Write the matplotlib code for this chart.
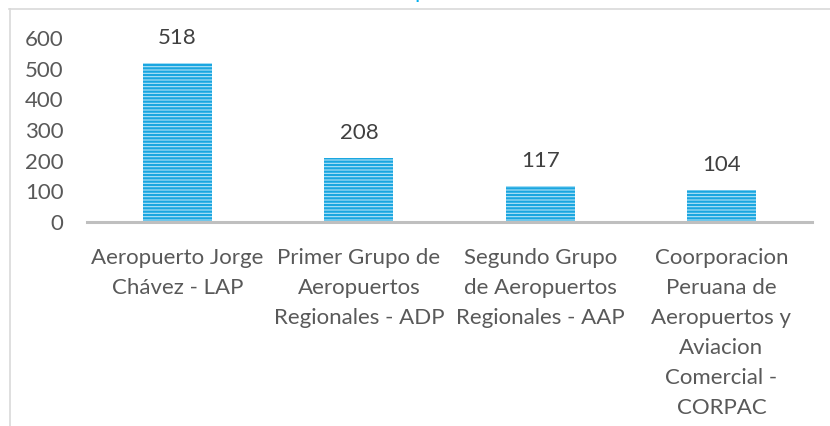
import matplotlib
matplotlib.use("Agg")
import matplotlib.pyplot as plt
from matplotlib.lines import Line2D

# data
categories = [
    "Aeropuerto Jorge\nChávez - LAP",
    "Primer Grupo de\nAeropuertos\nRegionales - ADP",
    "Segundo Grupo\nde Aeropuertos\nRegionales - AAP",
    "Coorporacion\nPeruana de\nAeropuertos y\nAviacion\nComercial -\nCORPAC",
]
values = [518, 208, 117, 104]
y_ticks = [0, 100, 200, 300, 400, 500, 600]

FS = 16
plt.rcParams["font.family"] = ["Lato", "DejaVu Sans"]
plt.rcParams["hatch.linewidth"] = 1.6

TXT = "#595959"
BAR_FACE = "#b3e3f7"
BAR_LINE = "#1aa6e0"

fig = plt.figure(figsize=(8.3, 4.26), dpi=100)
ax = fig.add_axes([87 / 830, 1 - 222 / 426, (812 - 87) / 830, (222 - 38) / 426])

x = range(len(categories))
bars = ax.bar(x, values, width=0.38, color=BAR_FACE, edgecolor=BAR_LINE,
              linewidth=0, hatch="-----")

for b, v in zip(bars, values):
    ax.annotate(str(v), (b.get_x() + b.get_width() / 2, v),
                xytext=(0, 18), textcoords="offset points",
                ha="center", va="center", fontsize=FS, color="#404040")

ax.set_xlim(-0.5, len(categories) - 0.5)
ax.set_ylim(0, 600)
ax.set_yticks(y_ticks)
ax.set_yticklabels([str(t) for t in y_ticks])
ax.set_xticks(list(x))
ax.set_xticklabels(categories, linespacing=1.62)

ax.tick_params(axis="y", length=0, pad=17, labelsize=FS, labelcolor=TXT)
ax.tick_params(axis="x", length=0, pad=19, labelsize=FS, labelcolor=TXT)

for s in ["top", "right", "left"]:
    ax.spines[s].set_visible(False)
ax.spines["bottom"].set_color("#bfbfbf")
ax.spines["bottom"].set_linewidth(2.2)

# chart frame (partially visible)
fig.add_artist(Line2D([9 / 830, 1], [1 - 8.5 / 426, 1 - 8.5 / 426],
                      transform=fig.transFigure, color="#d9d9d9", lw=1.2))
fig.add_artist(Line2D([10 / 830, 10 / 830], [0, 1 - 8.5 / 426],
                      transform=fig.transFigure, color="#d9d9d9", lw=1.2))

# title cut off above the image, only a descender shows
fig.text(421 / 830, 1 + 2.4 / 426, "p", ha="center", va="baseline",
         fontsize=FS, color="#00b0f0")

fig.savefig("out.png", dpi=100)
